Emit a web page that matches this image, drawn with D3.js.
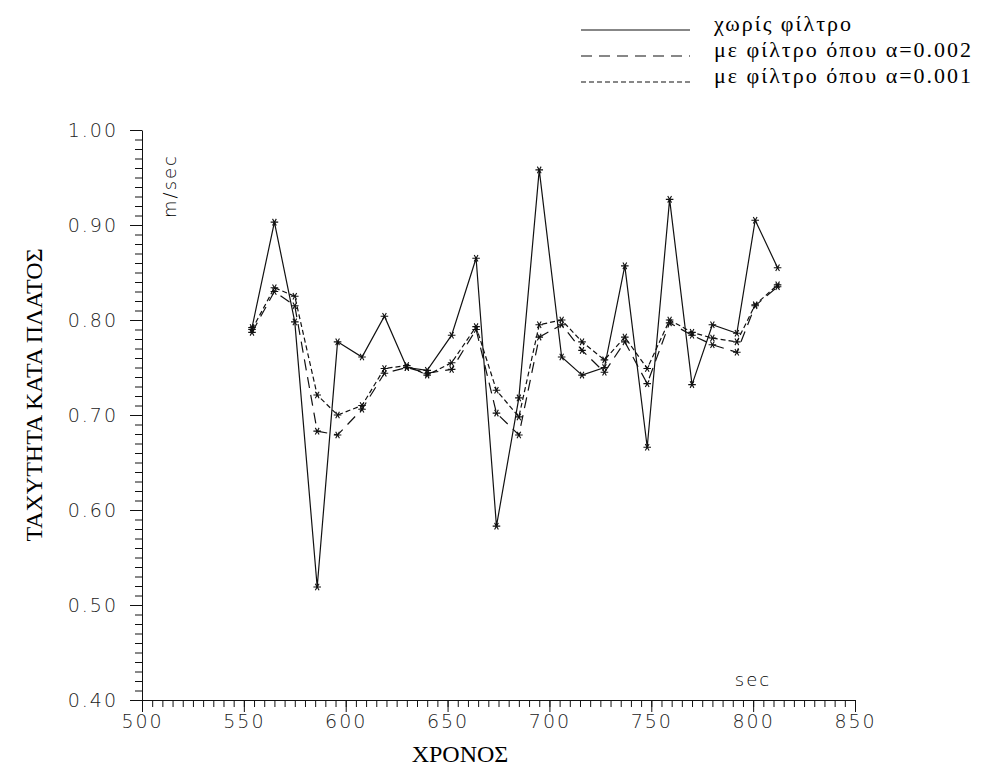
<!DOCTYPE html>
<html>
<head>
<meta charset="utf-8">
<script src="https://cdn.jsdelivr.net/npm/d3@7"></script>
<style>
    body { margin: 0; background: #fff; }
    .tick text { font-family: "DejaVu Sans", sans-serif; font-weight: 200; fill: #222; letter-spacing: 2px; }
    .domain, .tick line { stroke: #111; }
</style>
</head>
<body>
<div id="chart"></div>
<script>
// time (sec)
const times = [554, 565, 575, 586, 596, 608, 619, 630, 640, 652, 664, 674, 685,
               695, 706, 716, 727, 737, 748, 759, 770, 780, 792, 801, 812];

// χωρίς φίλτρο
const noFilter = [0.792, 0.903, 0.798, 0.519, 0.777, 0.761, 0.804, 0.750, 0.747, 0.784, 0.865, 0.583, 0.718,
                  0.958, 0.761, 0.742, 0.750, 0.857, 0.666, 0.927, 0.732, 0.795, 0.786, 0.905, 0.855];

// με φίλτρο α=0.002
const filter002 = [0.787, 0.830, 0.815, 0.683, 0.679, 0.706, 0.744, 0.750, 0.744, 0.748, 0.790, 0.702, 0.679,
                   0.782, 0.795, 0.768, 0.745, 0.777, 0.733, 0.797, 0.784, 0.774, 0.766, 0.815, 0.835];

// με φίλτρο α=0.001
const filter001 = [0.790, 0.834, 0.825, 0.721, 0.700, 0.710, 0.749, 0.752, 0.742, 0.755, 0.793, 0.726, 0.698,
                   0.795, 0.800, 0.777, 0.758, 0.782, 0.749, 0.800, 0.787, 0.781, 0.777, 0.816, 0.837];

const xTicks = [500, 550, 600, 650, 700, 750, 800, 850];
const yTicks = [0.40, 0.50, 0.60, 0.70, 0.80, 0.90, 1.00];

const seriesNames = ["χωρίς φίλτρο", "με φίλτρο όπου α=0.002", "με φίλτρο όπου α=0.001"];
const dashes = [null, "11,7", "5,3"];

class SpeedVis {

    constructor(parentElement) {
        this.parentElement = parentElement;
        this.initVis();
    }

    initVis() {
        let vis = this;

        vis.width = 1000;
        vis.height = 772;

        vis.svg = d3.select("#" + vis.parentElement).append("svg")
            .attr("width", vis.width)
            .attr("height", vis.height);

        vis.svg.append("rect").attr("width", vis.width).attr("height", vis.height).attr("fill", "#fff");

        // scales (axis box)
        vis.x = d3.scaleLinear().domain([500, 850]).range([142, 855]);
        vis.y = d3.scaleLinear().domain([0.4, 1.0]).range([700, 130]);

        // minor ticks first
        vis.svg.append("g")
            .attr("class", "axis")
            .attr("transform", `translate(0, ${vis.y(0.4)})`)
            .call(d3.axisBottom(vis.x).tickValues(d3.range(500, 851, 5)).tickSize(7).tickFormat(""))
            .call(g => g.select(".domain").remove());

        vis.svg.append("g")
            .attr("class", "axis")
            .attr("transform", `translate(${vis.x(500)}, 0)`)
            .call(d3.axisLeft(vis.y).tickValues(d3.range(40, 101).map(d => d / 100)).tickSize(7).tickFormat(""))
            .call(g => g.select(".domain").remove());

        // major ticks + labels
        vis.svg.append("g")
            .attr("class", "axis")
            .attr("transform", `translate(0, ${vis.y(0.4)})`)
            .call(d3.axisBottom(vis.x).tickValues(xTicks).tickSize(12).tickSizeOuter(0).tickPadding(3))
            .call(g => g.selectAll("text").attr("font-size", 19));

        vis.svg.append("g")
            .attr("class", "axis")
            .attr("transform", `translate(${vis.x(500)}, 0)`)
            .call(d3.axisLeft(vis.y).tickValues(yTicks).tickSize(12).tickSizeOuter(0).tickPadding(12)
                .tickFormat(d3.format(".2f")))
            .call(g => g.selectAll("text").attr("font-size", 19));

        // unit labels
        vis.svg.append("text")
            .attr("transform", "translate(176, 186) rotate(-90)")
            .attr("text-anchor", "middle")
            .attr("font-family", "DejaVu Sans")
            .attr("font-weight", 200)
            .attr("font-size", 18)
            .attr("letter-spacing", 2)
            .text("m/sec");

        vis.svg.append("text")
            .attr("x", 753).attr("y", 686)
            .attr("text-anchor", "middle")
            .attr("font-family", "DejaVu Sans")
            .attr("font-weight", 200)
            .attr("font-size", 18)
            .attr("letter-spacing", 2)
            .text("sec");

        // axis titles
        vis.svg.append("text")
            .attr("transform", "translate(42, 395) rotate(-90)")
            .attr("text-anchor", "middle")
            .attr("font-family", "Liberation Serif")
            .attr("font-size", 24)
            .text("ΤΑΧΥΤΗΤΑ ΚΑΤΑ ΠΛΑΤΟΣ");

        vis.svg.append("text")
            .attr("x", 460).attr("y", 762)
            .attr("text-anchor", "middle")
            .attr("font-family", "Liberation Serif")
            .attr("font-size", 24)
            .text("ΧΡΟΝΟΣ");

        vis.wrangleData();
    }

    wrangleData() {
        let vis = this;

        vis.series = [noFilter, filter002, filter001].map((vals, i) => ({
            name: seriesNames[i],
            dash: dashes[i],
            points: times.map((t, j) => ({t: t, v: vals[j]}))
        }));

        vis.updateVis();
    }

    updateVis() {
        let vis = this;

        vis.line = d3.line()
            .x(d => vis.x(d.t))
            .y(d => vis.y(d.v));

        vis.svg.selectAll(".series")
            .data(vis.series)
            .enter()
            .append("path")
            .attr("class", "series")
            .attr("fill", "none")
            .attr("stroke", "#111")
            .attr("stroke-width", 1.2)
            .attr("stroke-dasharray", d => d.dash)
            .attr("d", d => vis.line(d.points));

        // asterisk markers
        let star = d3.symbol().type(d3.symbolAsterisk || d3.symbolCross).size(40);
        vis.svg.selectAll(".marks")
            .data(vis.series)
            .enter()
            .append("g")
            .selectAll("path")
            .data(d => d.points)
            .enter()
            .append("path")
            .attr("transform", d => `translate(${vis.x(d.t)}, ${vis.y(d.v)}) rotate(30)`)
            .attr("d", star)
            .attr("fill", "none")
            .attr("stroke", "#111")
            .attr("stroke-width", 1.1);

        // legend
        let legend = vis.svg.append("g").attr("class", "legend");
        vis.series.forEach((s, i) => {
            let ly = 30 + i * 26;
            legend.append("line")
                .attr("x1", 581).attr("x2", 690)
                .attr("y1", ly).attr("y2", ly)
                .attr("stroke", "#111")
                .attr("stroke-width", 1.2)
                .attr("stroke-dasharray", s.dash);
            legend.append("text")
                .attr("x", 714).attr("y", ly + 1)
                .attr("font-family", "Liberation Serif")
                .attr("font-size", 22)
                .attr("letter-spacing", 2)
                .text(s.name);
        });
    }
}

new SpeedVis("chart");
</script>
</body>
</html>
